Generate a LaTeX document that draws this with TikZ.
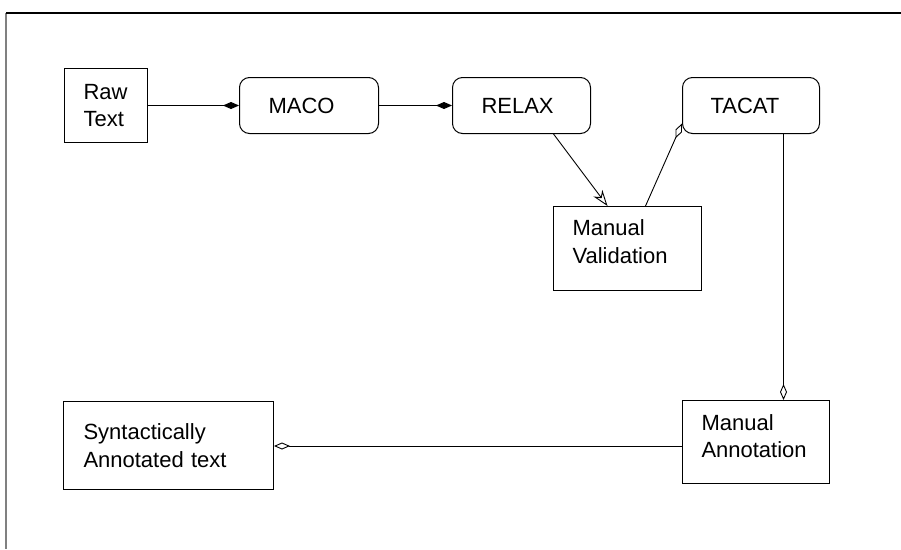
\documentclass[tikz,border=0pt]{standalone}
\usepackage{fontspec}
\setmainfont{Liberation Sans}
\usetikzlibrary{arrows.meta}
\tikzset{
  box/.style={draw, line width=1pt, anchor=north west, inner ysep=0pt, align=left,
    font=\fontsize{22}{27.5}\selectfont},
  rbox/.style={box, rounded corners=10pt},
  conn/.style={line width=0.9pt},
  fdia/.style={-{Diamond[length=16pt,width=7pt]}},
  odia/.style={-{Diamond[open,length=16pt,width=7pt]}},
  oarr/.style={-{Stealth[open,length=16pt,width=11pt,inset=5pt]}}
}
\begin{document}
\begin{tikzpicture}[x=1pt,y=1pt]
\useasboundingbox (0,0) rectangle (901,-549);
% frame
\coordinate (ftl) at (6,-13);
\coordinate (ftr) at (901,-13);
\coordinate (fbl) at (6,-549);
\draw[line width=2pt, gray] (ftl) -- (fbl);
\draw[line width=2pt, black] (ftl) -- (ftr);
% nodes
\node[box, inner xsep=19pt, text width=45pt, minimum height=74pt] (raw) at (64,-68) {Raw\\Text};
\node[rbox, inner xsep=29pt, text width=81pt, minimum height=56pt] (maco) at (239,-77) {MACO};
\node[rbox, inner xsep=29pt, text width=80pt, minimum height=56pt] (relax) at (452,-77) {RELAX};
\node[rbox, inner xsep=28pt, text width=81pt, minimum height=56pt] (tacat) at (682,-77) {TACAT};
\node[box, inner xsep=19pt, text width=110pt, minimum height=84pt] (mv) at (553,-206) {Manual\\Validation\rule[-14pt]{0pt}{0pt}};
\node[box, inner xsep=19pt, text width=109pt, minimum height=83pt] (ma) at (682,-400) {Manual\\Annotation\rule[-12pt]{0pt}{0pt}};
\node[box, inner xsep=20pt, text width=170pt, minimum height=88pt] (syn) at (63,-401) {Syntactically\\Annotated text};
% connectors
\draw[conn, fdia] (raw.east) -- (maco.west);
\draw[conn, fdia] (maco.east) -- (relax.west);
\draw[conn, oarr] ([xshift=32pt]relax.south) -- ([xshift=-20pt]mv.north);
\draw[conn, odia] ([xshift=18pt]mv.north) -- ([yshift=-18pt]tacat.west);
\coordinate (tb) at ([xshift=32.5pt]tacat.south);
\draw[conn, odia] (tb) -- (tb |- ma.north);
\draw[conn, odia] ([yshift=-4pt]ma.west) -- ([yshift=-4pt]ma.west -| syn.east);
\end{tikzpicture}
\end{document}
